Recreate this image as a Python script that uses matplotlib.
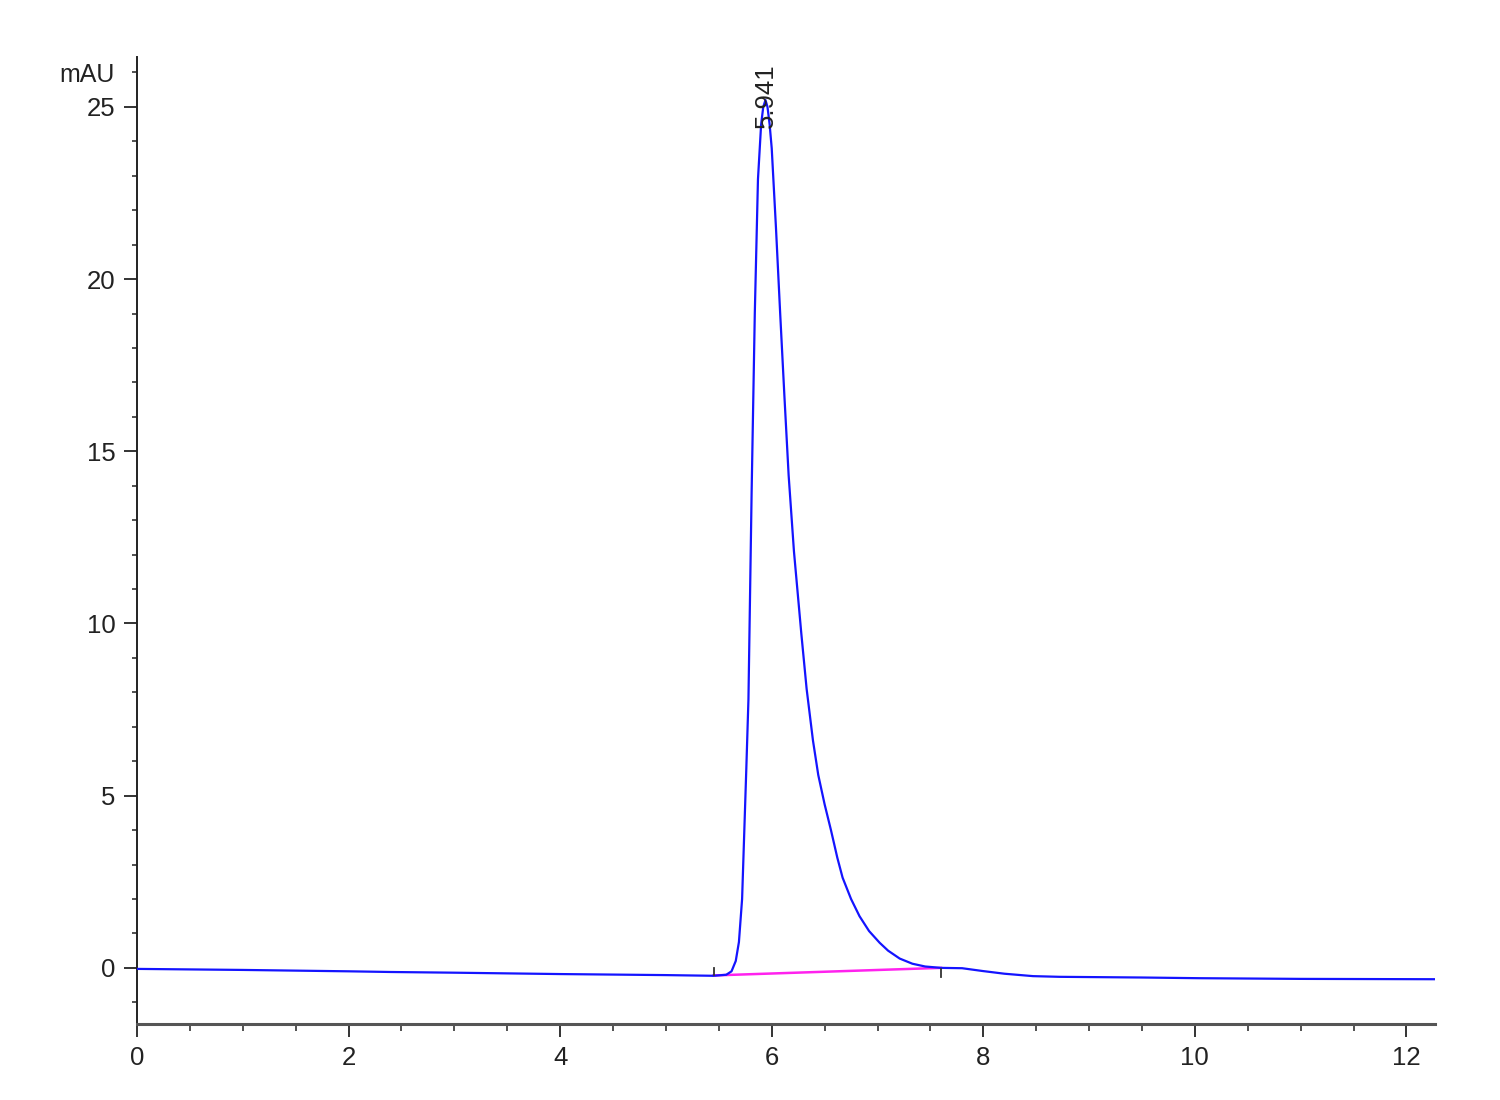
import matplotlib
matplotlib.use("Agg")
import matplotlib.pyplot as plt
from matplotlib.ticker import MultipleLocator

plt.rcParams['font.family'] = ['Liberation Sans', 'DejaVu Sans']

# Chromatogram trace (time in min, signal in mAU)
trace_time = [0, 1, 2, 2.4, 3, 4, 5, 5.45, 5.57, 5.62, 5.66, 5.69, 5.72, 5.74,
              5.76, 5.78, 5.81, 5.84, 5.87, 5.90, 5.92, 5.941, 5.96, 5.98,
              6.0, 6.04, 6.08, 6.12, 6.16, 6.21, 6.28, 6.33, 6.39, 6.44,
              6.50, 6.56, 6.62, 6.67, 6.75, 6.83, 6.92, 7.02, 7.10, 7.21,
              7.33, 7.45, 7.6, 7.8, 7.99, 8.2, 8.47, 8.72, 9.5, 10.04, 11,
              12.3]
trace_mau = [-0.03, -0.06, -0.10, -0.12, -0.14, -0.18, -0.21, -0.23, -0.20,
             -0.10, 0.20, 0.75, 2.0, 3.9, 5.8, 7.8, 13.8, 19.0, 22.9, 24.5,
             25.0, 25.2, 25.0, 24.5, 23.8, 21.5, 19.0, 16.6, 14.3, 12.1,
             9.7, 8.1, 6.6, 5.6, 4.75, 4.0, 3.2, 2.62, 2.0, 1.5, 1.07, 0.73,
             0.50, 0.27, 0.12, 0.04, 0.0, -0.01, -0.09, -0.17, -0.24, -0.26,
             -0.28, -0.30, -0.32, -0.33]

# Integration baseline (magenta)
base_time = [5.45, 7.6]
base_mau = [-0.22, 0.0]

# Integration start/end marks
mark_time = [5.45, 7.6]
mark_lo = [-0.22, -0.27]
mark_hi = [0.0, -0.02]

# Peak label
peak_time = 5.941
peak_label = "5.941"
peak_label_y = 24.4

x_ticks = [0, 2, 4, 6, 8, 10, 12]
y_ticks = [0, 5, 10, 15, 20, 25]
y_unit = "mAU"

fig = plt.figure(figsize=(15, 11), dpi=100)
ax = fig.add_axes([137/1500, 76/1100, (1435-137)/1500, (1024-57)/1100])

ax.plot(trace_time, trace_mau, color='#1414ff', lw=1.6, zorder=3)
ax.plot(base_time, base_mau, color='#ff22ee', lw=1.8, zorder=2)
for t, lo, hi in zip(mark_time, mark_lo, mark_hi):
    ax.plot([t, t], [lo, hi], color='#333333', lw=1.3, zorder=4)

ax.set_xlim(0, 12.27)
ax.set_ylim(-1.63, 26.45)

for s in ['top', 'right']:
    ax.spines[s].set_visible(False)
ax.spines['left'].set_color('#222222')
ax.spines['left'].set_linewidth(1.4)
ax.spines['bottom'].set_color('#555555')
ax.spines['bottom'].set_linewidth(2.2)

ax.set_xticks(x_ticks)
ax.set_yticks(y_ticks)
ax.xaxis.set_minor_locator(MultipleLocator(0.5))
ax.yaxis.set_minor_locator(MultipleLocator(1))
ax.tick_params(axis='both', which='major', direction='out', labelsize=18.5,
               colors='#333333', width=1.4, length=9.5, pad=6)
ax.tick_params(axis='y', which='minor', direction='out', length=3.6,
               width=1.2, colors='#333333')
ax.tick_params(axis='x', which='minor', direction='out', length=5,
               width=1.2, colors='#333333')
for lab in ax.get_xticklabels() + ax.get_yticklabels():
    lab.set_color('#222222')

ax.annotate(y_unit, xy=(0, 25.93), xycoords=('axes fraction', 'data'),
            xytext=(-16, 0), textcoords='offset points', ha='right',
            va='center', fontsize=18, color='#222222')

ax.text(peak_time, peak_label_y, peak_label, rotation=90, ha='center',
        va='bottom', fontsize=18.5, color='#222222')

fig.savefig('out.png', dpi=100, facecolor='white')
